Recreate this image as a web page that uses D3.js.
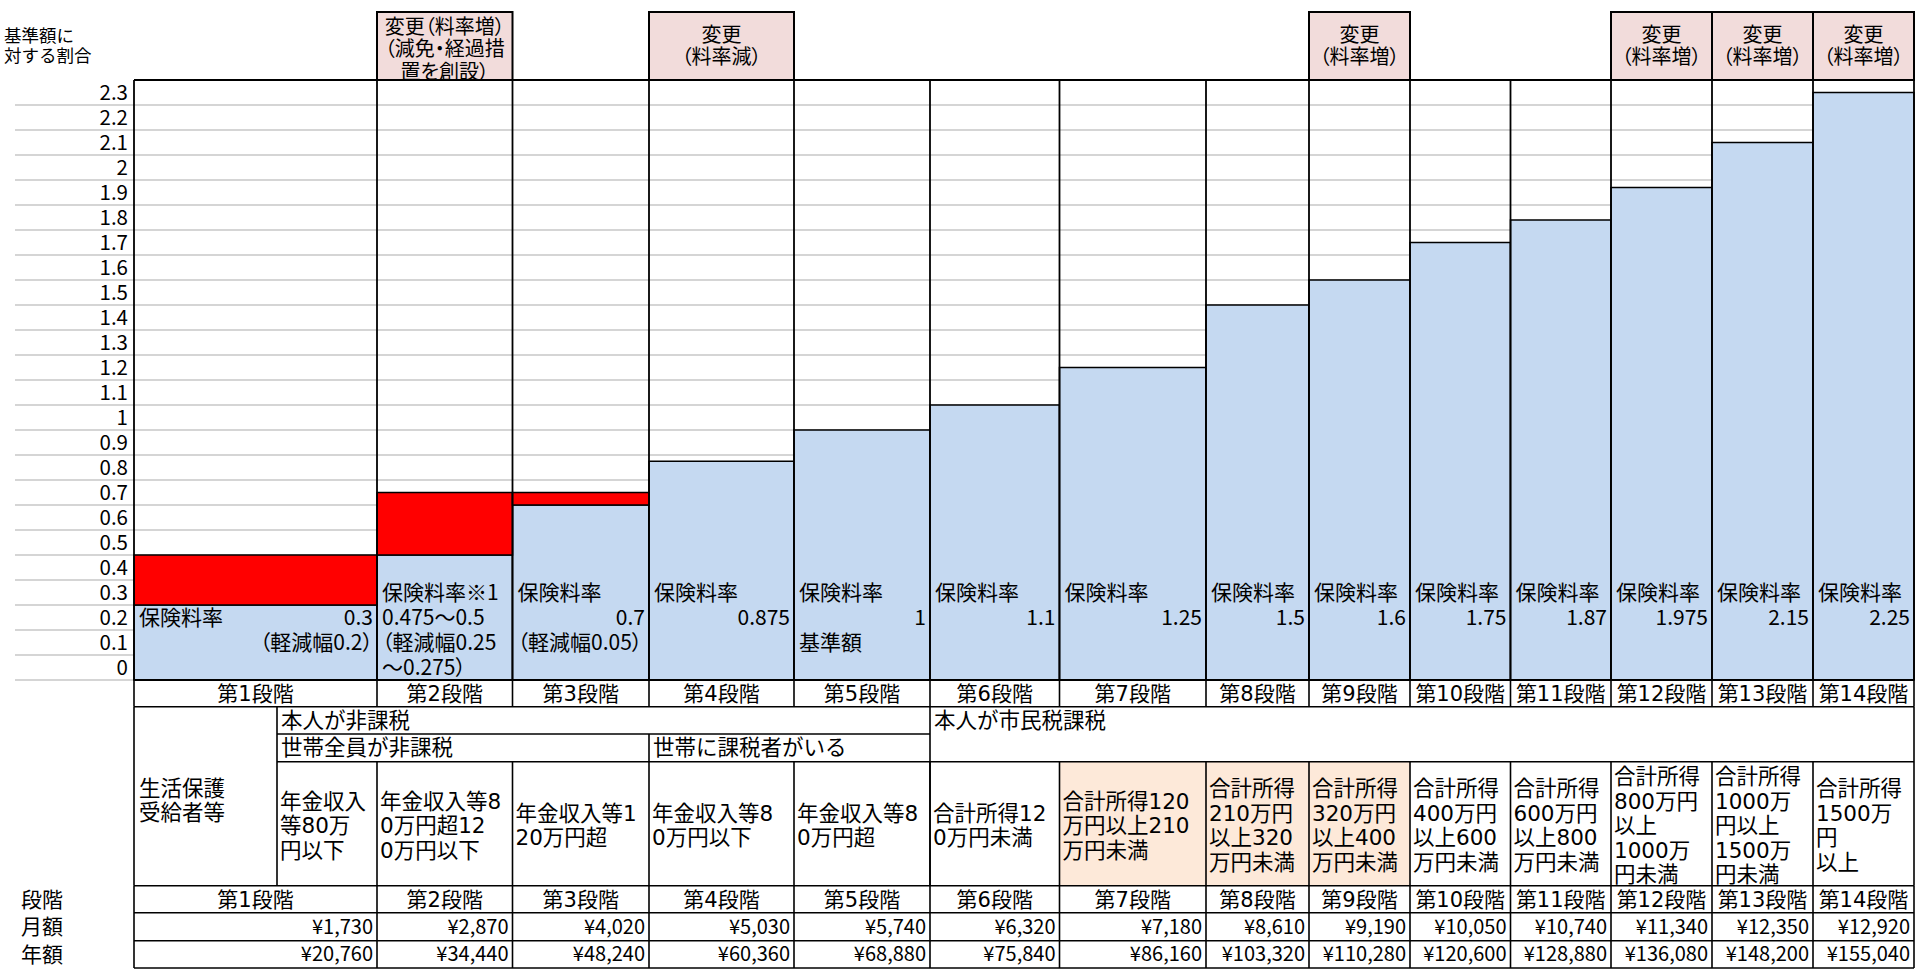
<!DOCTYPE html>
<html>
<head>
<meta charset="utf-8">
<script src="https://cdn.jsdelivr.net/npm/d3@7"></script>
<style>
body { margin: 0; background: #fff; }
svg text { font-family: "Noto Sans CJK JP", sans-serif; fill: #000; }
.wide { font-family: "DejaVu Sans", "Noto Sans CJK JP", sans-serif !important; }
.palt { font-feature-settings: "palt"; }
</style>
</head>
<body>
<svg width="1925" height="969"></svg>
<script>
// --- data ---
const stages = ["第1段階","第2段階","第3段階","第4段階","第5段階","第6段階","第7段階","第8段階","第9段階","第10段階","第11段階","第12段階","第13段階","第14段階"]
const rates = [0.3, 0.5, 0.7, 0.875, 1, 1.1, 1.25, 1.5, 1.6, 1.75, 1.84, 1.97, 2.15, 2.35]
const reliefs = [0.2, 0.25, 0.05, 0, 0, 0, 0, 0, 0, 0, 0, 0, 0, 0]
const rateLabels = ["0.3","0.475〜0.5","0.7","0.875","1","1.1","1.25","1.5","1.6","1.75","1.87","1.975","2.15","2.25"]
const monthly = [1730, 2870, 4020, 5030, 5740, 6320, 7180, 8610, 9190, 10050, 10740, 11340, 12350, 12920]
const yearly = [20760, 34440, 48240, 60360, 68880, 75840, 86160, 103320, 110280, 120600, 128880, 136080, 148200, 155040]
const yTicks = [0, 0.1, 0.2, 0.3, 0.4, 0.5, 0.6, 0.7, 0.8, 0.9, 1, 1.1, 1.2, 1.3, 1.4, 1.5, 1.6, 1.7, 1.8, 1.9, 2, 2.1, 2.2, 2.3]
const changes = [
	null,
	["変更（料率増）","（減免・経過措","置を創設）"],
	null,
	["変更","（料率減）"],
	null, null, null, null,
	["変更","（料率増）"],
	null, null,
	["変更","（料率増）"],
	["変更","（料率増）"],
	["変更","（料率増）"]
]
// left text / right text per cell row inside the bars
const notes = [
	[["保険料率", rateLabels[0]], ["", "（軽減幅0.2）"]],
	[["保険料率※1", ""], [rateLabels[1], ""], ["（軽減幅0.25", ""], ["〜0.275）", ""]],
	[["保険料率", ""], ["", rateLabels[2]], ["（軽減幅0.05）", ""]],
	[["保険料率", ""], ["", rateLabels[3]]],
	[["保険料率", ""], ["", rateLabels[4]], ["基準額", ""]],
	...rateLabels.slice(5).map(r => [["保険料率", ""], ["", r]])
]
const conditions = [
	[],
	["年金収入","等80万","円以下"],
	["年金収入等8","0万円超12","0万円以下"],
	["年金収入等1","20万円超"],
	["年金収入等8","0万円以下"],
	["年金収入等8","0万円超"],
	["合計所得12","0万円未満"],
	["合計所得120","万円以上210","万円未満"],
	["合計所得","210万円","以上320","万円未満"],
	["合計所得","320万円","以上400","万円未満"],
	["合計所得","400万円","以上600","万円未満"],
	["合計所得","600万円","以上800","万円未満"],
	["合計所得","800万円","以上","1000万","円未満"],
	["合計所得","1000万","円以上","1500万","円未満"],
	["合計所得","1500万","円","以上"]
]
const highlighted = [7, 8, 9]   // table columns with peach fill
const selfTax = [["本人が非課税", 1, 5], ["本人が市民税課税", 6, 14]]
const householdTax = [["世帯全員が非課税", 1, 3], ["世帯に課税者がいる", 4, 5]]

// --- layout ---
const axisX = 134, rightX = 1914, gridLeft = 15
const plotTop = 80, plotBottom = 680
const colWidths = [243, 135.5, 136.5, 145, 136, 129.5, 146.5, 103, 101, 100.5, 100.5, 101, 101, 101]
const firstSplit = 143
const edges = [axisX, ...d3.cumsum(colWidths).map(v => axisX + v)]
const subEdges = [axisX, axisX + firstSplit, ...edges.slice(1)]
const rows = [680, 706.7, 734, 761.7, 885.7, 912.7, 940.7, 968]

const svg = d3.select("svg")
const xScale = d3.scaleOrdinal().domain(stages).range(edges.slice(0, -1))
const wScale = d3.scaleOrdinal().domain(stages).range(colWidths)
const yScale = d3.scaleLinear().domain([0, 2.4]).range([plotBottom, plotTop])
const rowStep = yScale(0) - yScale(0.1)

// gridlines
svg.append("g").selectAll("line").data(yTicks).enter().append("line")
	.attr("x1", gridLeft).attr("x2", rightX)
	.attr("y1", d => yScale(d)).attr("y2", d => yScale(d))
	.style("stroke", "#ababab").style("stroke-width", 1.2)

// bars
const barData = stages.map((s, i) => ({ s, i, rate: rates[i], relief: reliefs[i] }))
svg.append("g").selectAll("rect").data(barData).enter().append("rect")
	.attr("x", d => xScale(d.s)).attr("width", d => wScale(d.s))
	.attr("y", d => yScale(d.rate)).attr("height", d => yScale(0) - yScale(d.rate))
	.style("fill", "#c5d9f1").style("stroke", "#000").style("stroke-width", 1.5)
svg.append("g").selectAll("rect").data(barData.filter(d => d.relief > 0)).enter().append("rect")
	.attr("x", d => xScale(d.s)).attr("width", d => wScale(d.s))
	.attr("y", d => yScale(d.rate + d.relief)).attr("height", d => yScale(d.rate) - yScale(d.rate + d.relief))
	.style("fill", "#ff0000").style("stroke", "#000").style("stroke-width", 1.5)

// column frames
svg.append("g").selectAll("line").data(edges).enter().append("line")
	.attr("x1", d => d).attr("x2", d => d).attr("y1", plotTop).attr("y2", plotBottom)
	.style("stroke", "#000").style("stroke-width", 1.8)
svg.append("line").attr("x1", axisX).attr("x2", rightX).attr("y1", plotTop).attr("y2", plotTop)
	.style("stroke", "#000").style("stroke-width", 2)

// y axis labels (sit in the row above each value line)
const yAxis = d3.axisLeft(yScale).tickValues(yTicks).tickSize(0).tickPadding(6).tickFormat(d => String(d))
const yAxisG = svg.append("g").attr("transform", `translate(${axisX},0)`).call(yAxis)
yAxisG.select(".domain").remove()
yAxisG.selectAll("text").attr("y", -rowStep / 2)
	.style("font-size", "20.5px").style("font-family", null)

svg.append("text").attr("x", 4).attr("y", 36).attr("dy", "0.35em").style("font-size", "17.5px").text("基準額に")
svg.append("text").attr("x", 4).attr("y", 56).attr("dy", "0.35em").style("font-size", "17.5px").text("対する割合")

// header boxes
const changeData = barData.filter(d => changes[d.i])
const hdr = svg.append("g").selectAll("g").data(changeData).enter().append("g")
hdr.append("rect")
	.attr("x", d => xScale(d.s)).attr("width", d => wScale(d.s))
	.attr("y", 12).attr("height", plotTop - 12)
	.style("fill", "#f2dcdb").style("stroke", "#000").style("stroke-width", 2)
hdr.each(function(d) {
	const lines = changes[d.i]
	const cy = (12 + plotTop) / 2 + (lines.length > 2 ? 3 : 0)
	d3.select(this).selectAll("text").data(lines).enter().append("text")
		.attr("class", "palt")
		.attr("x", xScale(d.s) + wScale(d.s) / 2)
		.attr("y", (t, k) => cy + (k - (lines.length - 1) / 2) * 22.5)
		.attr("dy", "0.35em").attr("text-anchor", "middle")
		.style("font-size", "20px").text(t => t)
})

// notes inside bars
const noteRows = [0.35, 0.25, 0.15, 0.05]
barData.forEach(d => {
	const usable = noteRows.filter(r => r + 0.05 <= d.rate + 0.001)
	const g = svg.append("g")
	notes[d.i].forEach((pair, k) => {
		const yy = yScale(usable[k])
		if (pair[0]) g.append("text").attr("class", "palt")
			.attr("x", xScale(d.s) + 5).attr("y", yy).attr("dy", "0.35em")
			.style("font-size", "21px").text(pair[0])
		if (pair[1]) g.append("text").attr("class", "palt")
			.attr("x", xScale(d.s) + wScale(d.s) - 4).attr("y", yy).attr("dy", "0.35em")
			.attr("text-anchor", "end").style("font-size", "21px").text(pair[1])
	})
})

// --- table below ---
const tbl = svg.append("g")
const hline = (x1, x2, yy) => tbl.append("line").attr("x1", x1).attr("x2", x2).attr("y1", yy).attr("y2", yy)
	.style("stroke", "#000").style("stroke-width", 1.6)
const vline = (xx, y1, y2) => tbl.append("line").attr("x1", xx).attr("x2", xx).attr("y1", y1).attr("y2", y2)
	.style("stroke", "#000").style("stroke-width", 1.6)
const mid = (a, b) => (a + b) / 2

// peach cells
tbl.selectAll("rect.hl").data(highlighted).enter().append("rect")
	.attr("x", i => subEdges[i]).attr("width", i => subEdges[i + 1] - subEdges[i])
	.attr("y", rows[3]).attr("height", rows[4] - rows[3])
	.style("fill", "#fde9d9")

// stage label rows (row 1 and row 5)
;[0, 4].forEach(r => {
	tbl.append("g").selectAll("text").data(stages).enter().append("text")
		.attr("class", "wide")
		.attr("x", s => xScale(s) + wScale(s) / 2).attr("y", mid(rows[r], rows[r + 1])).attr("dy", "0.35em")
		.attr("text-anchor", "middle").style("font-size", "21px").text(s => s)
})
// amounts
;[[monthly, 5], [yearly, 6]].forEach(([vals, r]) => {
	tbl.append("g").selectAll("text").data(stages).enter().append("text")
		.attr("x", s => xScale(s) + wScale(s) - 4).attr("y", mid(rows[r], rows[r + 1])).attr("dy", "0.35em")
		.attr("text-anchor", "end").style("font-size", "20px")
		.text((s, i) => "¥" + d3.format(",")(vals[i]))
})
// left labels
;[["段階", 4], ["月額", 5], ["年額", 6]].forEach(([t, r]) => {
	tbl.append("text").attr("x", 21).attr("y", mid(rows[r], rows[r + 1])).attr("dy", "0.35em")
		.style("font-size", "21px").text(t)
})
// tax status rows
selfTax.forEach(([t, a]) => tbl.append("text").attr("x", subEdges[a] + 4).attr("y", mid(rows[1], rows[2]))
	.attr("dy", "0.35em").style("font-size", "21.5px").text(t))
householdTax.forEach(([t, a]) => tbl.append("text").attr("x", subEdges[a] + 4).attr("y", mid(rows[2], rows[3]))
	.attr("dy", "0.35em").style("font-size", "21.5px").text(t))
;["生活保護", "受給者等"].forEach((t, k) => tbl.append("text").attr("x", axisX + 5)
	.attr("y", mid(rows[1], rows[4]) - 8 + k * 24).attr("dy", "0.35em").style("font-size", "21.5px").text(t))
// conditions
conditions.forEach((lines, i) => {
	const cy = mid(rows[3], rows[4]) + 2
	lines.forEach((t, k) => tbl.append("text").attr("class", "wide")
		.attr("x", subEdges[i] + 3).attr("y", cy + (k - (lines.length - 1) / 2) * 24.5).attr("dy", "0.35em")
		.style("font-size", "21.5px").text(t))
})

// table grid
hline(axisX, rightX, rows[0]).style("stroke-width", 2)
hline(axisX, rightX, rows[1])
hline(subEdges[1], subEdges[6], rows[2])
hline(subEdges[1], rightX, rows[3])
;[4, 5, 6, 7].forEach(r => hline(axisX, rightX, rows[r]))
edges.forEach(e => vline(e, rows[0], rows[1]))
vline(axisX, rows[1], rows[4]); vline(rightX, rows[1], rows[4])
vline(subEdges[1], rows[1], rows[4]); vline(subEdges[6], rows[1], rows[4])
vline(subEdges[4], rows[2], rows[3])
subEdges.slice(2, -1).forEach(e => vline(e, rows[3], rows[4]))
edges.forEach(e => vline(e, rows[4], rows[7]))
</script>
</body>
</html>
